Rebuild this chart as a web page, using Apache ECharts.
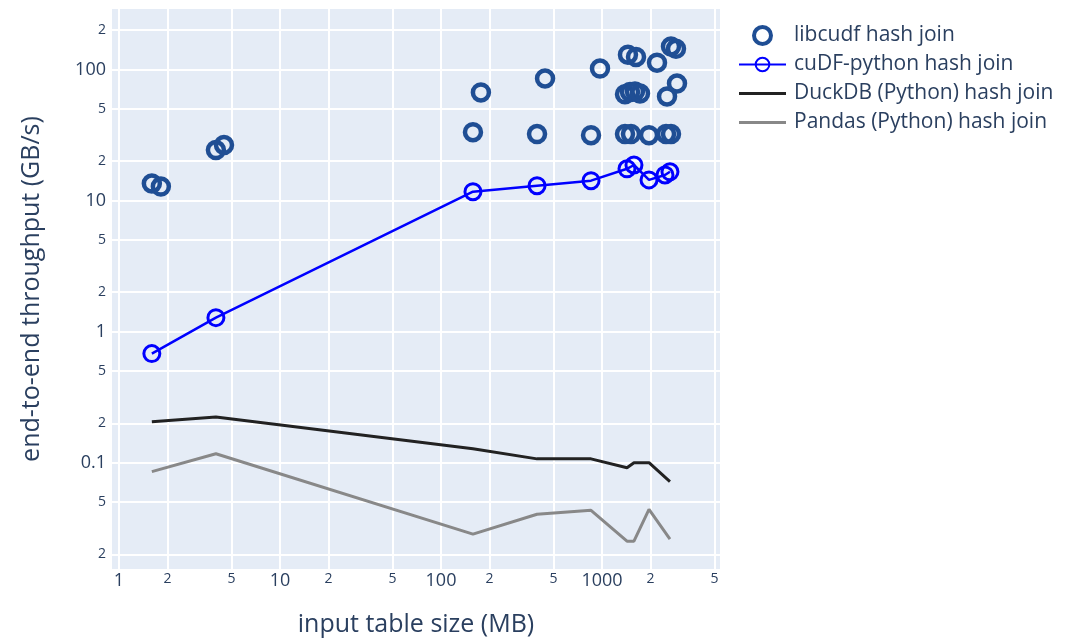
<!DOCTYPE html>
<html>
<head>
<meta charset="utf-8">
<script src="https://cdn.jsdelivr.net/npm/echarts@6/dist/echarts.min.js"></script>
<style>
html,body{margin:0;padding:0;background:#ffffff;}
#chart{width:1077px;height:642px;}
</style>
</head>
<body>
<div id="chart"></div>
<script>
// ---- data ----
const libcudfSizeMB = [1.60, 1.82, 4.0, 4.49, 158, 177, 395, 443, 855, 972,
  1450, 1627, 2197, 2683, 2882,
  1390, 1493, 1603, 1722, 2535, 2924,
  1390, 1514, 1959, 2500, 2683];
const libcudfThroughput = [13.5, 12.8, 24.3, 26.6, 33.3, 67.0, 32.2, 85.5, 31.6, 101.8,
  130, 125, 113, 150, 144,
  64.7, 67.5, 68.1, 65.8, 62.4, 78.3,
  32.2, 32.2, 31.6, 32.2, 32.2];

const cudfPySizeMB = [1.60, 4.0, 158, 395, 855, 1430, 1580, 1959, 2462, 2644];
const cudfPyThroughput = [0.68, 1.28, 11.7, 13.0, 14.2, 17.5, 18.7, 14.4, 15.7, 16.6];

const duckdbSizeMB = [1.60, 4.0, 158, 395, 855, 1430, 1580, 1959, 2644];
const duckdbThroughput = [0.205, 0.223, 0.128, 0.107, 0.107, 0.0916, 0.100, 0.100, 0.0718];

const pandasSizeMB = [1.60, 4.0, 158, 395, 855, 1430, 1580, 1959, 2644];
const pandasThroughput = [0.0855, 0.117, 0.0285, 0.0404, 0.0433, 0.0252, 0.0252, 0.044, 0.0261];

const xTickValues = [1, 2, 5, 10, 20, 50, 100, 200, 500, 1000, 2000, 5000];
const xTickLabels = ['1', '2', '5', '10', '2', '5', '100', '2', '5', '1000', '2', '5'];
const yTickValues = [0.02, 0.05, 0.1, 0.2, 0.5, 1, 2, 5, 10, 20, 50, 100, 200];
const yTickLabels = ['2', '5', '0.1', '2', '5', '1', '2', '5', '10', '2', '5', '100', '2'];

const xRange = [0.905, 5408];
const yRange = [0.01545, 290];

// ---- helpers ----
const lg = Math.log10;
function pairs(xs, ys) { return xs.map((x, i) => [lg(x), lg(ys[i])]); }
function tickFormatter(ticks, labels) {
  return function (v) {
    for (let i = 0; i < ticks.length; i++) {
      const t = lg(ticks[i]);
      if (Math.abs(t - v) < 1e-6) {
        const major = Math.abs(Math.round(t) - t) < 1e-9;
        return (major ? '{maj|' : '{mnr|') + labels[i] + '}';
      }
    }
    return '';
  };
}

const FONT = '"Open Sans", "Noto Sans", sans-serif';
const TXT = '#2a3f5f';
const richLabels = {
  maj: { fontFamily: FONT, fontSize: 18, color: TXT },
  mnr: { fontFamily: FONT, fontSize: 14, color: TXT }
};
const LINE_ICON = 'path://M0,0 L47,0 L47,3 L0,3 Z';

const chart = echarts.init(document.getElementById('chart'), null, { renderer: 'canvas' });

const option = {
  backgroundColor: '#ffffff',
  animation: false,
  textStyle: { fontFamily: FONT, color: TXT },
  grid: {
    left: 112, right: 357, top: 9, bottom: 69,
    show: true, backgroundColor: '#e5ecf6', borderWidth: 0
  },
  legend: {
    orient: 'vertical',
    left: 738, top: 25, padding: 0,
    itemWidth: 47, itemHeight: 17, itemGap: 8,
    textStyle: { fontFamily: FONT, fontSize: 21, color: TXT, padding: [0, 0, 0, 3] },
    data: [
      { name: 'libcudf hash join', itemStyle: { color: 'rgba(0,0,0,0)', borderColor: '#1f4e94', borderWidth: 4, opacity: 1 } },
      { name: 'cuDF-python hash join' },
      { name: 'DuckDB (Python) hash join', icon: LINE_ICON, itemStyle: { color: '#222222', borderWidth: 0 } },
      { name: 'Pandas (Python) hash join', icon: LINE_ICON, itemStyle: { color: '#888888', borderWidth: 0 } }
    ]
  },
  xAxis: {
    type: 'value',
    min: lg(xRange[0]), max: lg(xRange[1]),
    name: 'input table size (MB)',
    nameLocation: 'middle', nameGap: 43,
    nameTextStyle: { fontFamily: FONT, fontSize: 25, color: TXT },
    axisLine: { show: false },
    axisTick: { show: false, customValues: xTickValues.map(lg) },
    axisLabel: {
      customValues: xTickValues.map(lg),
      formatter: tickFormatter(xTickValues, xTickLabels),
      rich: richLabels, margin: 3,
      showMinLabel: true, showMaxLabel: true
    },
    splitLine: { show: true, lineStyle: { color: '#ffffff', width: 2 } }
  },
  yAxis: {
    type: 'value',
    min: lg(yRange[0]), max: lg(yRange[1]),
    name: 'end-to-end throughput (GB/s)',
    nameLocation: 'middle', nameGap: 68, nameRotate: 90,
    nameTextStyle: { fontFamily: FONT, fontSize: 25, color: TXT },
    axisLine: { show: false },
    axisTick: { show: false, customValues: yTickValues.map(lg) },
    axisLabel: {
      customValues: yTickValues.map(lg),
      formatter: tickFormatter(yTickValues, yTickLabels),
      rich: richLabels, margin: 6,
      showMinLabel: true, showMaxLabel: true
    },
    splitLine: { show: true, lineStyle: { color: '#ffffff', width: 2 } }
  },
  series: [
    {
      name: 'libcudf hash join',
      type: 'scatter',
      data: pairs(libcudfSizeMB, libcudfThroughput),
      symbol: 'circle', symbolSize: 16,
      itemStyle: { color: 'rgba(0,0,0,0)', borderColor: '#1f4e94', borderWidth: 4.5, opacity: 1 },
      z: 2
    },
    {
      name: 'cuDF-python hash join',
      type: 'line',
      data: pairs(cudfPySizeMB, cudfPyThroughput),
      symbol: 'circle', symbolSize: 16, showSymbol: true,
      lineStyle: { color: '#0000ff', width: 2.5 },
      itemStyle: { color: 'rgba(0,0,0,0)', borderColor: '#0000ff', borderWidth: 3 },
      z: 3
    },
    {
      name: 'DuckDB (Python) hash join',
      type: 'line',
      data: pairs(duckdbSizeMB, duckdbThroughput),
      symbol: 'none', showSymbol: false,
      lineStyle: { color: '#222222', width: 3 },
      itemStyle: { color: '#222222' },
      z: 4
    },
    {
      name: 'Pandas (Python) hash join',
      type: 'line',
      data: pairs(pandasSizeMB, pandasThroughput),
      symbol: 'none', showSymbol: false,
      lineStyle: { color: '#888888', width: 3 },
      itemStyle: { color: '#888888' },
      z: 5
    }
  ]
};
chart.setOption(option);
</script>
</body>
</html>
